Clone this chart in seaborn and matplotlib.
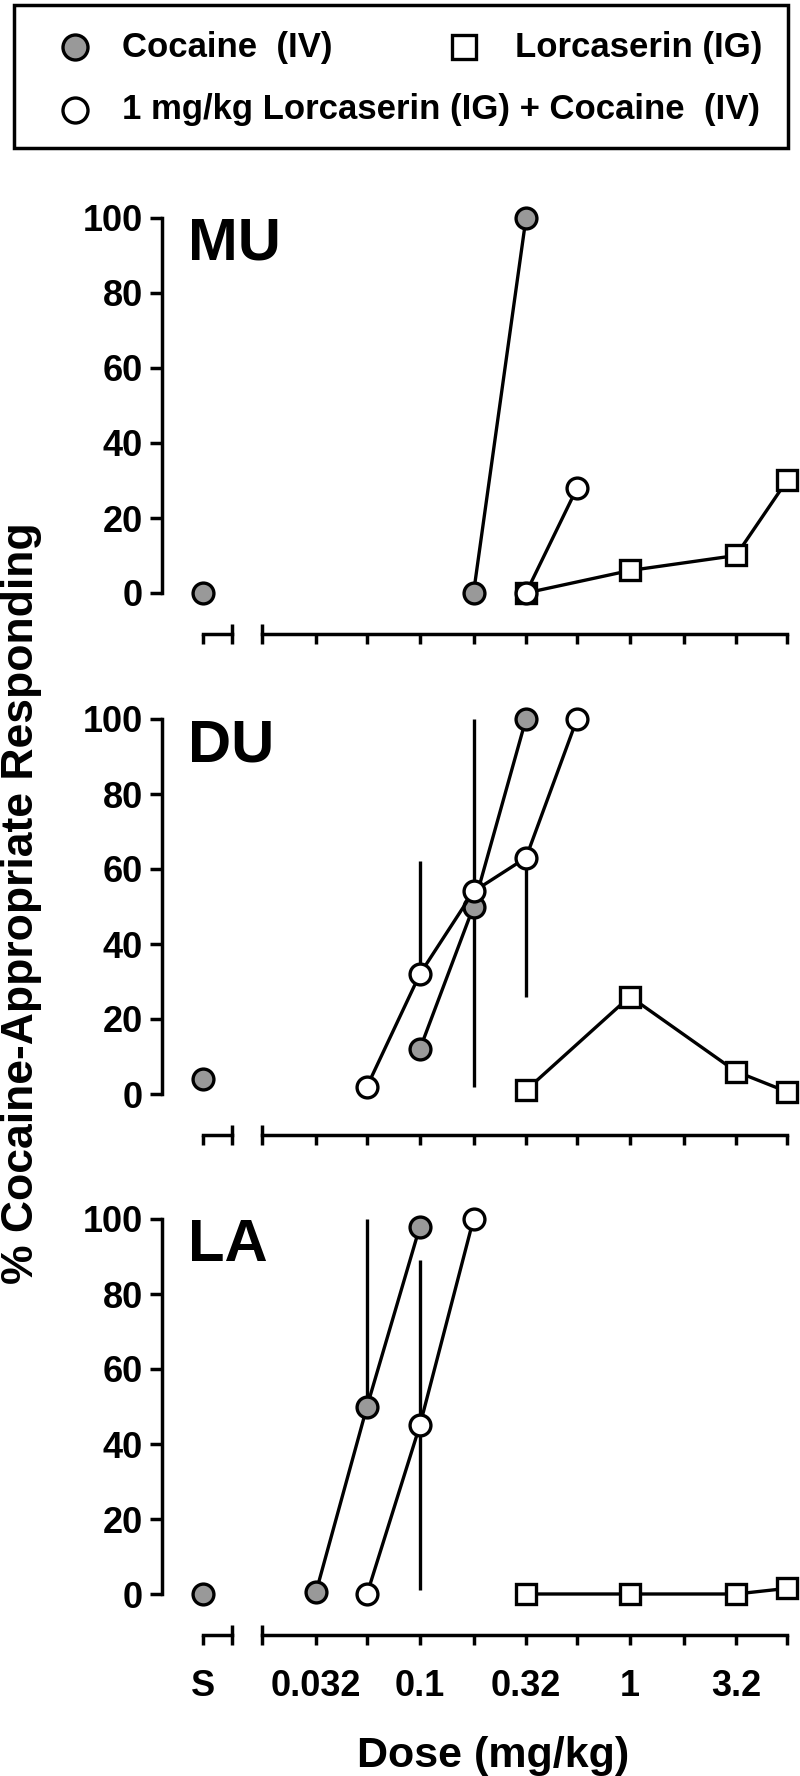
import numpy as np
import pandas as pd
import matplotlib
matplotlib.use("Agg")
import matplotlib.pyplot as plt
from matplotlib.patches import Rectangle
from matplotlib.ticker import NullFormatter
import seaborn as sns

# ---------------- data ----------------
panel_names = ["MU", "DU", "LA"]

saline_pct = [0, 4, 0]  # cocaine (IV) at S, per panel

mu_coc_dose = [0.18, 0.32]
mu_coc_pct = [0, 100]
mu_coc_err_lo = [0, 0]
mu_coc_err_hi = [0, 0]
mu_combo_dose = [0.32, 0.56]
mu_combo_pct = [0, 28]
mu_combo_err_lo = [0, 0]
mu_combo_err_hi = [0, 0]
mu_lorc_dose = [0.32, 1, 3.2, 5.6]
mu_lorc_pct = [0, 6, 10, 30]

du_coc_dose = [0.1, 0.18, 0.32]
du_coc_pct = [12, 50, 100]
du_coc_err_lo = [0, 48, 0]
du_coc_err_hi = [0, 50, 0]
du_combo_dose = [0.056, 0.1, 0.18, 0.32, 0.56]
du_combo_pct = [2, 32, 54, 63, 100]
du_combo_err_lo = [0, 0, 0, 37, 0]
du_combo_err_hi = [0, 30, 0, 0, 0]
du_lorc_dose = [0.32, 1, 3.2, 5.6]
du_lorc_pct = [1, 26, 6, 0.6]

la_coc_dose = [0.032, 0.056, 0.1]
la_coc_pct = [0.5, 50, 98]
la_coc_err_lo = [0, 0, 0]
la_coc_err_hi = [0, 50, 0]
la_combo_dose = [0.056, 0.1, 0.18]
la_combo_pct = [0, 45, 100]
la_combo_err_lo = [0, 44, 0]
la_combo_err_hi = [0, 44, 0]
la_lorc_dose = [0.32, 1, 3.2, 5.6]
la_lorc_pct = [0, 0, 0, 1.5]

x_ticks = [0.032, 0.056, 0.1, 0.18, 0.32, 0.56, 1, 1.8, 3.2, 5.6]
x_ticklabels = ["0.032", "", "0.1", "", "0.32", "", "1", "", "3.2", ""]
y_ticks = [0, 20, 40, 60, 80, 100]

legend_labels = ["Cocaine  (IV)", "Lorcaserin (IG)",
                 "1 mg/kg Lorcaserin (IG) + Cocaine  (IV)"]

# ---------------- style ----------------
sns.set_style("ticks")
plt.rcParams["font.family"] = ["Liberation Sans", "DejaVu Sans"]
plt.rcParams["font.weight"] = "bold"
for key in ["text.color", "axes.labelcolor", "xtick.color", "ytick.color",
            "axes.edgecolor"]:
    plt.rcParams[key] = "black"

GRAY = "#999999"
LW = 2.4
MS = 15
MEW = 2.4
AXW = 2.5
TICK_FS = 26

W, H = 800, 1776
fig = plt.figure(figsize=(W / 100, H / 100), dpi=100)


def fx(px):
    return px / W


def fh(px):
    return px / H


Y_AXIS_X = 162
S_W = 83
MAIN_LEFT = 262
MAIN_W = W - MAIN_LEFT
PANEL_H = 375
panel_tops = [218, 719, 1219]
LOG_LEFT = 10 ** -1.752
LOG_RIGHT = 10 ** 0.8099

series_sets = [
    dict(coc=(mu_coc_dose, mu_coc_pct, mu_coc_err_lo, mu_coc_err_hi),
         combo=(mu_combo_dose, mu_combo_pct, mu_combo_err_lo, mu_combo_err_hi),
         lorc=(mu_lorc_dose, mu_lorc_pct)),
    dict(coc=(du_coc_dose, du_coc_pct, du_coc_err_lo, du_coc_err_hi),
         combo=(du_combo_dose, du_combo_pct, du_combo_err_lo, du_combo_err_hi),
         lorc=(du_lorc_dose, du_lorc_pct)),
    dict(coc=(la_coc_dose, la_coc_pct, la_coc_err_lo, la_coc_err_hi),
         combo=(la_combo_dose, la_combo_pct, la_combo_err_lo, la_combo_err_hi),
         lorc=(la_lorc_dose, la_lorc_pct)),
]


def draw_line(ax, dose, pct, marker, face, z):
    df = pd.DataFrame({"dose": dose, "pct": pct})
    sns.lineplot(data=df, x="dose", y="pct", ax=ax, color="black", lw=LW,
                 marker=marker, markersize=MS, markerfacecolor=face,
                 markeredgecolor="black", markeredgewidth=MEW,
                 errorbar=None, legend=False, zorder=z)


def draw_err(ax, dose, pct, lo, hi, z):
    keep = [k for k in range(len(dose)) if lo[k] > 0 or hi[k] > 0]
    if keep:
        eb = ax.errorbar([dose[k] for k in keep], [pct[k] for k in keep],
                         yerr=[[lo[k] for k in keep], [hi[k] for k in keep]],
                         fmt="none", ecolor="black", elinewidth=LW,
                         capsize=0, zorder=z)
        for c in eb.lines[2]:
            c.set_clip_on(False)


for i, (name, top) in enumerate(zip(panel_names, panel_tops)):
    bottom_frac = 1 - fh(top + PANEL_H)
    ax_s = fig.add_axes([fx(Y_AXIS_X), bottom_frac, fx(S_W), fh(PANEL_H)])
    ax_m = fig.add_axes([fx(MAIN_LEFT), bottom_frac, fx(MAIN_W), fh(PANEL_H)])
    for ax in (ax_s, ax_m):
        ax.set_facecolor("none")
        ax.set_ylim(0, 100)
        ax.spines["top"].set_visible(False)
        ax.spines["right"].set_visible(False)
        ax.spines["bottom"].set_position(("outward", 29.5))
        ax.spines["bottom"].set_linewidth(AXW)
        ax.spines["left"].set_linewidth(AXW)

    # ---- saline axes (carries the y axis)
    ax_s.set_xlim(-41, 42)
    sns.scatterplot(x=[0], y=[saline_pct[i]], ax=ax_s, s=MS ** 2, color=GRAY,
                    edgecolor="black", linewidth=MEW, zorder=5, legend=False,
                    clip_on=False)
    ax_s.spines["bottom"].set_bounds(0, 29)
    ax_s.set_xticks([0])
    ax_s.set_xticks([29], minor=True)
    ax_s.set_xticklabels(["S"] if i == 2 else [""])
    ax_s.set_yticks(y_ticks)
    ax_s.set_yticklabels([str(v) for v in y_ticks])
    ax_s.tick_params(axis="y", direction="out", length=8.6, width=AXW,
                     pad=5, labelsize=TICK_FS)
    ax_s.tick_params(axis="x", which="major", direction="out", length=7.2,
                     width=AXW, pad=17, labelsize=TICK_FS)
    ax_s.tick_params(axis="x", which="minor", direction="inout", length=15,
                     width=AXW)
    ax_s.set_xlabel("")
    ax_s.set_ylabel("")
    for t in ax_s.get_yticklabels() + ax_s.get_xticklabels():
        t.set_fontweight("bold")

    # ---- main log-dose axes
    ax_m.set_xscale("log")
    ax_m.set_xlim(LOG_LEFT, LOG_RIGHT)
    ax_m.spines["left"].set_visible(False)
    ax_m.spines["bottom"].set_bounds(LOG_LEFT, 5.6)
    ax_m.set_yticks([])

    s = series_sets[i]
    ld, lp = s["lorc"]
    draw_line(ax_m, ld, lp, "s", "white", 3)
    cd, cp, clo, chi = s["coc"]
    draw_err(ax_m, cd, cp, clo, chi, 2)
    draw_line(ax_m, cd, cp, "o", GRAY, 4)
    bd, bp, blo, bhi = s["combo"]
    draw_err(ax_m, bd, bp, blo, bhi, 2)
    draw_line(ax_m, bd, bp, "o", "white", 5)
    for ln in ax_m.lines:
        ln.set_clip_on(False)

    ax_m.set_xticks(x_ticks)
    ax_m.set_xticklabels(x_ticklabels if i == 2 else [""] * len(x_ticks))
    ax_m.set_xticks([LOG_LEFT], minor=True)
    ax_m.xaxis.set_minor_formatter(NullFormatter())
    ax_m.tick_params(axis="x", which="major", direction="out", length=7.2,
                     width=AXW, pad=17, labelsize=TICK_FS)
    ax_m.tick_params(axis="x", which="minor", direction="inout", length=15,
                     width=AXW)
    ax_m.tick_params(axis="y", left=False)
    ax_m.set_xlabel("")
    ax_m.set_ylabel("")
    for t in ax_m.get_xticklabels():
        t.set_fontweight("bold")

    ax_s.text(26 / S_W, 1 - 42 / PANEL_H, name, transform=ax_s.transAxes,
              ha="left", va="baseline", fontsize=43, fontweight="bold")

# ---------------- axis titles ----------------
fig.text(fx(22), 1 - fh(903), "% Cocaine-Appropriate Responding",
         rotation=90, ha="center", va="center", fontsize=32,
         fontweight="bold")
fig.text(fx(493), 1 - fh(1767), "Dose (mg/kg)", ha="center", va="baseline",
         fontsize=31, fontweight="bold")

# ---------------- legend ----------------
ax_leg = fig.add_axes([0, 0, 1, 1], zorder=-1)
ax_leg.set_xlim(0, W)
ax_leg.set_ylim(H, 0)
ax_leg.axis("off")
ax_leg.add_patch(Rectangle((14, 5), 774, 143, fill=False, lw=AXW,
                           edgecolor="black"))
LEG_MS = 18
ax_leg.plot([75], [47], "o", ms=LEG_MS, mfc=GRAY, mec="black", mew=MEW)
ax_leg.plot([464], [47], "s", ms=LEG_MS - 1, mfc="white", mec="black", mew=MEW)
ax_leg.plot([75], [110], "o", ms=LEG_MS, mfc="white", mec="black", mew=MEW)
ax_leg.text(122, 47, legend_labels[0], ha="left", va="center", fontsize=25,
            fontweight="bold")
ax_leg.text(515, 47, legend_labels[1], ha="left", va="center", fontsize=25,
            fontweight="bold")
ax_leg.text(122, 110, legend_labels[2], ha="left", va="center", fontsize=25,
            fontweight="bold")

fig.savefig("out.png", dpi=100)
